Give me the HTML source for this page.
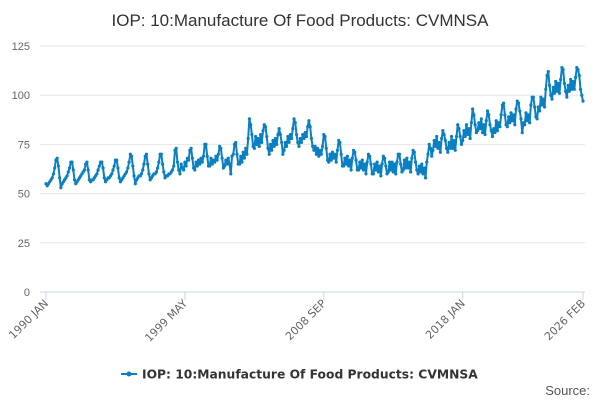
<!DOCTYPE html>
<html><head><meta charset="utf-8"><style>
body{margin:0;background:#fff;}
svg{display:block;font-family:"Liberation Sans",sans-serif;}
</style></head><body>
<svg id="chart" width="600" height="400">
<text x="300" y="26" text-anchor="middle" font-size="17" fill="#333">IOP: 10:Manufacture Of Food Products: CVMNSA</text>
<g id="grid"></g><g id="xaxis"></g><g id="series"></g>
<g>
<line x1="121" y1="374" x2="137" y2="374" stroke="#0a7fc1" stroke-width="2"/>
<circle cx="129" cy="374" r="2.5" fill="#0a7fc1"/>
<text x="142" y="378.5" font-size="12.3" font-weight="bold" fill="#333" font-family="DejaVu Sans, sans-serif">IOP: 10:Manufacture Of Food Products: CVMNSA</text>
</g>
<text x="590" y="395" text-anchor="end" font-size="13" fill="#555">Source:</text>
</svg>
<script>
const yTicks=[0,25,50,75,100,125];
const xTickLabels=["1990 JAN","1999 MAY","2008 SEP","2018 JAN","2026 FEB"];
const xTickIndex=[0,112,224,336,433];
const values=[
55,54,55,56,57,58,60,63,67,68,64,58,
53,55,56,57,58,59,61,63,66,66,62,57,
55,56,57,58,59,60,61,62,65,66,62,57,
56,57,57,58,59,60,62,64,66,66,63,58,
56,57,58,58,59,60,62,64,67,67,63,58,
56,57,58,59,60,61,63,66,70,69,64,59,
55,57,58,59,59,60,62,65,69,70,65,60,
57,58,59,60,60,61,63,66,70,70,65,61,
58,59,59,60,60,61,62,64,72,73,66,62,
60,65,63,62,66,64,68,67,72,73,68,63,
62,66,64,67,65,68,66,69,75,75,69,64,
64,68,65,67,66,69,67,70,74,73,68,63,
64,67,65,68,65,60,69,70,75,76,70,65,
65,69,66,71,68,73,70,78,88,85,80,74,
73,79,75,78,74,80,76,82,85,84,79,73,
70,75,72,77,74,78,75,80,83,80,76,70,
72,76,74,79,76,80,78,83,88,86,80,76,
74,78,76,80,78,81,79,84,87,84,78,74,
72,74,70,73,69,72,70,74,80,79,73,67,
66,70,67,71,68,70,66,72,77,76,70,64,
64,68,65,69,64,67,62,68,72,71,67,62,
62,66,63,67,62,65,60,66,70,69,65,60,
60,65,62,66,61,64,59,65,69,68,64,60,
61,66,62,66,61,65,60,66,70,70,65,61,
62,67,63,68,63,66,61,68,72,71,66,62,
60,64,61,65,60,63,58,66,70,75,73,69,
72,77,74,79,73,76,71,78,82,80,77,73,
71,76,73,79,73,77,72,79,85,83,79,75,
77,82,79,85,80,83,78,86,93,90,85,81,
82,86,83,88,81,85,80,87,92,90,85,82,
79,83,81,87,82,86,84,90,95,96,90,85,
84,89,86,91,87,90,85,93,97,96,92,88,
81,86,85,91,87,90,86,95,99,99,94,89,
88,94,92,99,95,98,94,103,110,112,105,100,
98,104,101,107,102,106,101,108,114,113,106,102,
99,105,102,108,103,107,103,109,114,113,110,103,
100,97];
const NS="http://www.w3.org/2000/svg";
const X0=46,X1=583,Y0=292,Y1=46;
function xs(i){return X0+i*(X1-X0)/(values.length-1);}
function ys(v){return Y0-(v/125)*(Y0-Y1);}
const grid=document.getElementById('grid');
yTicks.forEach(t=>{
 const l=document.createElementNS(NS,'line');
 l.setAttribute('x1',40);l.setAttribute('x2',585);l.setAttribute('y1',ys(t));l.setAttribute('y2',ys(t));
 l.setAttribute('stroke',t===0?'#ccd6eb':'#e6e6e6');l.setAttribute('stroke-width',1);
 
 
 grid.appendChild(l);
 const tx=document.createElementNS(NS,'text');
 tx.setAttribute('x',30);tx.setAttribute('y',ys(t)+4);tx.setAttribute('text-anchor','end');
 tx.setAttribute('font-size',11);tx.setAttribute('fill','#666');tx.textContent=t;
 
 
 grid.appendChild(tx);
});
const xa=document.getElementById('xaxis');
xTickIndex.forEach((idx,k)=>{
 const x=xs(idx);
 const tk=document.createElementNS(NS,'line');
 tk.setAttribute('x1',x);tk.setAttribute('x2',x);tk.setAttribute('y1',292);tk.setAttribute('y2',300);
 tk.setAttribute('stroke','#ccd6eb');
 
 
 xa.appendChild(tk);
 const tx=document.createElementNS(NS,'text');
 tx.setAttribute('x',x+3);tx.setAttribute('y',304);tx.setAttribute('text-anchor','end');
 tx.setAttribute('font-size',11);tx.setAttribute('fill','#666');
 tx.setAttribute('font-family','DejaVu Sans, sans-serif');
 tx.setAttribute('transform','rotate(-45 '+(x+3)+' 304)');
 tx.textContent=xTickLabels[k];
 
 
 xa.appendChild(tx);
});
const sg=document.getElementById('series');
let d='';
values.forEach((v,i)=>{d+=(i?'L':'M')+xs(i).toFixed(2)+' '+ys(v).toFixed(2);});
const p=document.createElementNS(NS,'path');
p.setAttribute('d',d);p.setAttribute('fill','none');p.setAttribute('stroke','#0a7fc1');p.setAttribute('stroke-width',2);
p.setAttribute('stroke-linejoin','round');


sg.appendChild(p);
values.forEach((v,i)=>{
 const c=document.createElementNS(NS,'circle');
 c.setAttribute('cx',xs(i));c.setAttribute('cy',ys(v));c.setAttribute('r',1.6);c.setAttribute('fill','#0a7fc1');
 
 
 sg.appendChild(c);
});
</script>
</body></html>
